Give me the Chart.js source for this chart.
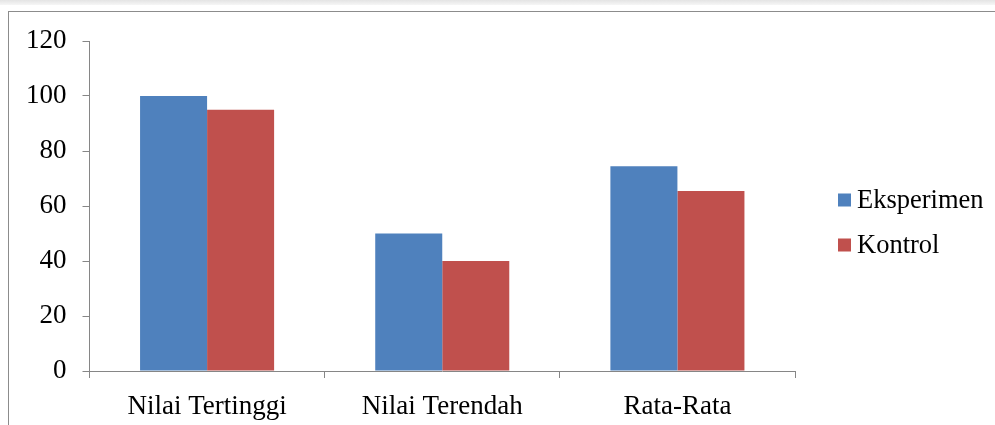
<!DOCTYPE html>
<html>

<head>
    <title>Nilai Eksperimen dan Kontrol</title>
    <script src="https://cdn.jsdelivr.net/npm/chart.js"></script>
    <style>
        body { margin: 0; background: #fff; overflow: hidden; }
        #topband { position: absolute; left: 0; top: 0; width: 995px; height: 5px;
            background: linear-gradient(#e4e4e4, #f6f6f6); }
        #frame { position: absolute; left: 8px; top: 11px; width: 1000px; height: 430px;
            border-top: 1px solid #8c8c8c; border-left: 1px solid #8c8c8c; }
        #wrap { position: absolute; left: 0; top: 0; width: 995px; height: 425px; }
    </style>
</head>

<body>
    <div id="topband"></div>
    <div id="frame"></div>
    <div id="wrap"><canvas id="myBarChart" width="995" height="425"></canvas></div>
    <script>
        // data
        const categories = ['Nilai Tertinggi', 'Nilai Terendah', 'Rata-Rata'];
        const eksperimen = [100, 50, 74.5];
        const kontrol = [95, 40, 65.5];
        const yTicks = [0, 20, 40, 60, 80, 100, 120];

        const fontFamily = "'Liberation Serif', 'Times New Roman', serif";
        const axisGray = '#868686';

        // legend drawn on canvas to the right of the plot
        const sideLegend = {
            id: 'sideLegend',
            afterDraw(chart) {
                const ctx = chart.ctx;
                const area = chart.chartArea;
                const x = area.right + 43;
                const mid = chart.height / 2 + 10;
                ctx.save();
                ctx.font = '26.5px ' + fontFamily;
                ctx.textBaseline = 'middle';
                chart.data.datasets.forEach((ds, i) => {
                    const cy = mid + (i - 0.5) * 45;
                    ctx.fillStyle = ds.backgroundColor;
                    ctx.fillRect(x, cy - 6.5, 13, 13);
                    ctx.fillStyle = '#000';
                    ctx.fillText(ds.label, x + 19, cy + 1);
                });
                ctx.restore();
            }
        };

        var ctx = document.getElementById('myBarChart').getContext('2d');
        var myBarChart = new Chart(ctx, {
            type: 'bar',
            data: {
                labels: categories,
                datasets: [
                    {
                        label: 'Eksperimen',
                        data: eksperimen,
                        backgroundColor: '#4F81BD',
                        categoryPercentage: 0.57,
                        barPercentage: 1
                    },
                    {
                        label: 'Kontrol',
                        data: kontrol,
                        backgroundColor: '#C0504D',
                        categoryPercentage: 0.57,
                        barPercentage: 1
                    }
                ]
            },
            options: {
                responsive: false,
                animation: false,
                layout: { padding: { top: 41, left: 10, right: 200, bottom: 0 } },
                plugins: {
                    legend: { display: false },
                    tooltip: { enabled: false }
                },
                scales: {
                    x: {
                        afterFit: (axis) => { axis.height = 54; },
                        grid: { drawOnChartArea: false, drawTicks: true, tickLength: 7, color: axisGray, offset: true },
                        border: { color: axisGray, width: 1 },
                        ticks: { color: '#000', padding: 15, font: { family: fontFamily, size: 27, lineHeight: 1 } }
                    },
                    y: {
                        min: 0,
                        max: yTicks[yTicks.length - 1],
                        afterBuildTicks: (axis) => { axis.ticks = yTicks.map(v => ({ value: v })); },
                        grid: { drawOnChartArea: false, drawTicks: true, tickLength: 7, color: axisGray },
                        border: { color: axisGray, width: 1 },
                        ticks: { color: '#000', padding: 16, font: { family: fontFamily, size: 27 } }
                    }
                }
            },
            plugins: [sideLegend]
        });
    </script>
</body>

</html>
